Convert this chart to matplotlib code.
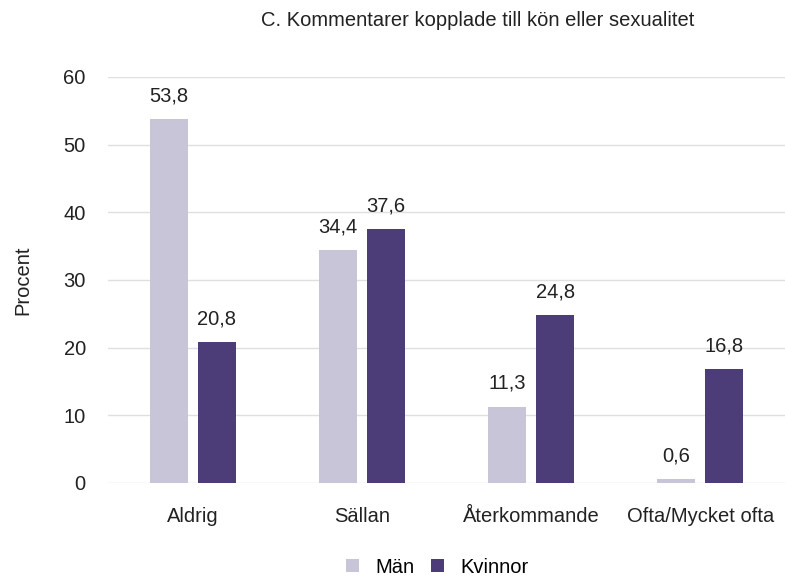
import numpy as np
import matplotlib
matplotlib.use("Agg")
import matplotlib.pyplot as plt

categories = ["Aldrig", "Sällan", "Återkommande", "Ofta/Mycket ofta"]
man = [53.8, 34.4, 11.3, 0.6]
kvinnor = [20.8, 37.6, 24.8, 16.8]
labels_man = ["53,8", "34,4", "11,3", "0,6"]
labels_kv = ["20,8", "37,6", "24,8", "16,8"]

plt.rcParams['font.family'] = ['Liberation Sans', 'DejaVu Sans']
FS = 14.5
TXT = "#222222"

fig = plt.figure(figsize=(7.85, 5.78), dpi=100)
ax = fig.add_axes([0.1376, 0.1644, 0.8624, 0.7024])

x = np.arange(len(categories))
w = 0.225
off = 0.142
b1 = ax.bar(x - off, man, w, color="#c8c5d8", label="Män", zorder=2)
b2 = ax.bar(x + off, kvinnor, w, color="#4c3d78", label="Kvinnor", zorder=2)

for rect, t in zip(b1, labels_man):
    ax.text(rect.get_x() + rect.get_width() / 2, rect.get_height() + 2.0, t,
            ha="center", va="bottom", fontsize=FS, color=TXT)
for rect, t in zip(b2, labels_kv):
    ax.text(rect.get_x() + rect.get_width() / 2, rect.get_height() + 2.0, t,
            ha="center", va="bottom", fontsize=FS, color=TXT)

ax.set_xlim(-0.5, 3.5)
ax.set_ylim(0, 60)
ax.set_yticks(range(0, 61, 10))
ax.set_xticks(x)
ax.set_xticklabels(categories, fontsize=FS, color=TXT)
ax.tick_params(axis="y", labelsize=FS, labelcolor=TXT, length=0, pad=16)
ax.tick_params(axis="x", length=0, pad=17)
ax.grid(axis="y", color="#e0e0e0", linewidth=1, zorder=0)
for s in ax.spines.values():
    s.set_visible(False)
ax.set_ylabel("Procent", fontsize=FS, color=TXT, labelpad=22)

fig.text(0.609, 0.965, "C. Kommentarer kopplade till kön eller sexualitet",
         ha="center", va="center", fontsize=FS, color=TXT)

fig.legend(handles=[b1, b2], loc="center", bbox_to_anchor=(0.557, 0.019), ncol=2,
           frameon=False, fontsize=FS, handlelength=0.65, handleheight=0.65,
           columnspacing=0.8, handletextpad=0.8)

fig.savefig("out.png", dpi=100)
